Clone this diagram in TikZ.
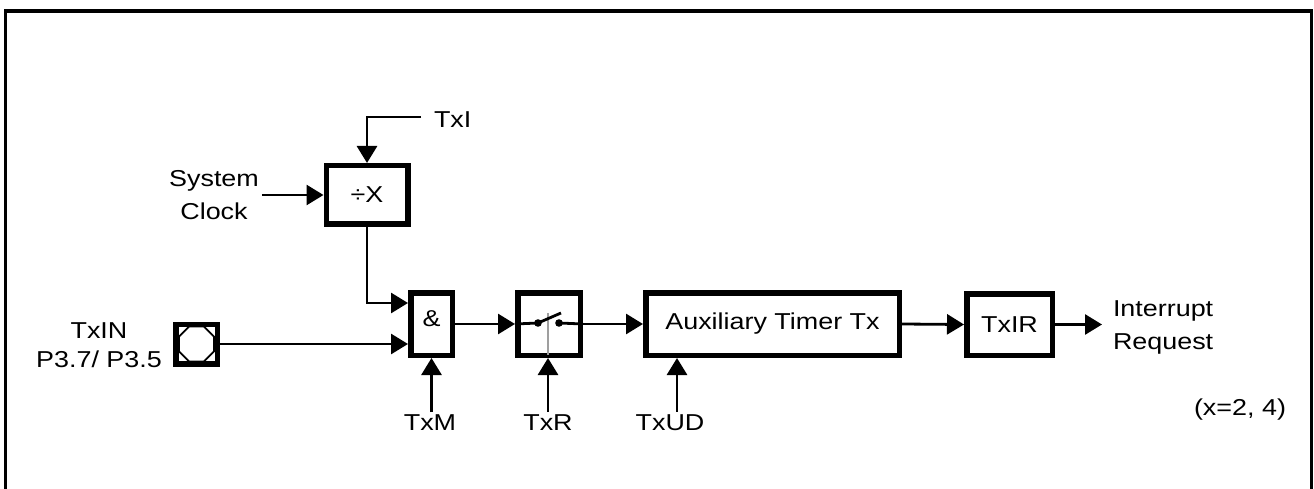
\documentclass[tikz,border=0pt]{standalone}
\usepackage{fontspec}
\setmainfont{Liberation Sans}[FakeStretch=1.17]
\usetikzlibrary{arrows.meta,calc,shapes.geometric}
\begin{document}
\begin{tikzpicture}[x=1pt,y=-1pt,
  font=\fontsize{23}{30}\selectfont,
  box/.style={draw, line width=5.5pt, rectangle, inner sep=0pt},
  wire/.style={line width=2.8pt},
  arr/.style={wire, -{Triangle[length=17pt,width=20pt]}},
  lbl/.style={inner sep=0pt, outer sep=3pt},
  twoline/.style={font=\fontsize{23}{33}\selectfont}]
\useasboundingbox (0,0) rectangle (1314,489);
\draw[line width=3.2pt] (5.5,500) -- (5.5,11) -- (1311.5,11) -- (1311.5,500);

% blocks
\node[box, minimum width=81.5pt, minimum height=58.5pt] (divX) at (367,195) {÷X};
\node[box, minimum width=41.5pt, minimum height=62.5pt] (and) at (431.5,324) {};
\node (andtxt) at (431.5,319) {\&};
\node[box, minimum width=62.5pt, minimum height=62.5pt] (sw) at (549,324) {};
\node[box, minimum width=253.5pt, minimum height=62.5pt] (aux) at (772.5,324) {Auxiliary Timer Tx};
\node[box, minimum width=85.5pt, minimum height=61.5pt] (txir) at (1009.5,324.5) {TxIR};
\node[box, minimum width=41.5pt, minimum height=39.5pt] (pad) at (196.5,344) {};
\node[regular polygon, regular polygon sides=8, draw, line width=1.8pt,
      minimum size=38pt, inner sep=0pt] (oct) at (pad.center) {};

% labels
\node[lbl, anchor=west] (txi) at (431,120) {TxI};
\node[lbl, align=center, twoline] (sys) at (214,195) {System\\Clock};
\node[lbl, align=center, font=\fontsize{23}{28.5}\selectfont] (txin) at (99,345) {TxIN\\P3.7/ P3.5};
\node[lbl] (txm) at (430,423) {TxM};
\node[lbl] (txr) at (548,423) {TxR};
\node[lbl] (txud) at (670,423) {TxUD};
\node[lbl, anchor=west, align=left, twoline] (irq) at (1110,327) {Interrupt\\Request};
\node[lbl] (note) at (1240,410) {(x=2, 4)};

% connectors
\draw[arr] ($(txi.west)+(-10,-3)$) -| (divX.north);
\draw[arr] (sys.east) -- (sys.east -| divX.west);
\draw[arr] (divX.south) |- ($(and.north west)+(0,13)$);
\draw[arr] (pad.east) -- (pad.east -| and.west);
\draw[arr] (and.east) -- (sw.west);
\draw[arr] (sw.east) -- (aux.west);
\draw[arr] (aux.east) -- (txir.west);
\draw[arr] (txir.east) -- ([xshift=-8pt]txir.east -| irq.west);
\draw[arr] (txm.north -| and.south) -- (and.south);
\draw[arr] (txr.north) -- (txr.north |- sw.south);
\draw[arr] ($(txud.north)+(7,0)$) coordinate (u) -- (u |- aux.south);

% switch
\coordinate (swa) at (538,323);
\coordinate (swb) at (559,323);
\draw[gray!75, line width=2.6pt] (548,313) -- (548,355);
\draw[wire] (sw.west) -- (swa);
\draw[wire] (swb) -- (sw.east);
\draw[wire] (swa) -- (561,313);
\fill (swa) circle (3.8pt);
\fill (swb) circle (3.8pt);
\end{tikzpicture}
\end{document}
